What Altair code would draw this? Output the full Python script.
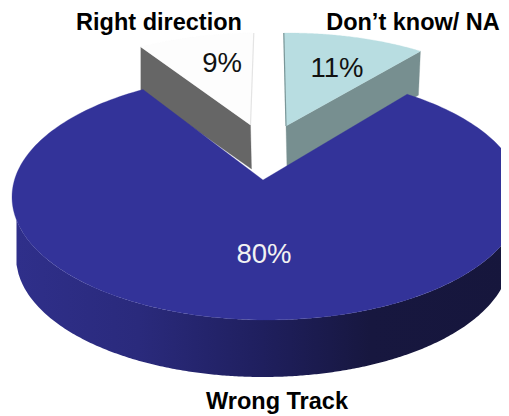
import math
import altair as alt
import pandas as pd

# Chart content
categories = ["Right direction", "Don\u2019t know/ NA", "Wrong Track"]
shares = [9, 11, 80]
top_colors = ["#fdfdfd", "#b8dde1", "#333399"]
wall_colors = ["#666666", "#778f90", None]
edge_colors = ["#e4e4e4", "#7a9698", None]
value_labels = ["9%", "11%", "80%"]
value_label_colors = ["#111111", "#111111", "#f2f2f2"]

# Drawing set-up of the tilted, exploded pie (page pixels)
W, H = 493, 400
DISC = dict(cx=267, cy=197, rx=255, ry=123)
BASE = dict(cx=263, cy=257, rx=247, ry=120)
APEX = (263, 180)
FORESHORTEN = 0.867       # the near-top slices look narrower through the tilt
START_ANGLE = -1          # boundary between the two small slices
SLICE_DISC = [dict(cx=258, cy=143.7, rx=241, ry=110.7), dict(cx=288, cy=143.7, rx=241, ry=110.7)]
SLICE_APEX = [(250.5, 125), (286, 126)]
DEPTH = 44


def rim(d, deg):
    t = math.radians(deg)
    return d["cx"] + d["rx"] * math.sin(t), d["cy"] - d["ry"] * math.cos(t)


def arc(d, a0, a1, n=90):
    return [rim(d, a0 + (a1 - a0) * i / n) for i in range(n + 1)]


xs = alt.Scale(domain=[8, 8 + W], range=[0, W])
ys = alt.Scale(domain=[8, 8 + H], range=[0, H])


def polygon(pts, color):
    pts = list(pts) + [pts[0]]
    df = pd.DataFrame({"x": [p[0] for p in pts], "y": [p[1] for p in pts], "i": range(len(pts))})
    return alt.Chart(df).mark_line(fill=color, stroke=color, strokeWidth=0.3, clip=True, interpolate="linear").encode(
        x=alt.X("x:Q", scale=xs, axis=None),
        y=alt.Y("y:Q", scale=ys, axis=None),
        order="i:Q",
    )


def segment(p, q, color):
    df = pd.DataFrame({"x": [p[0], q[0]], "y": [p[1], q[1]], "i": [0, 1]})
    return alt.Chart(df).mark_line(stroke=color, strokeWidth=1.2).encode(
        x=alt.X("x:Q", scale=xs, axis=None),
        y=alt.Y("y:Q", scale=ys, axis=None),
        order="i:Q",
    )


layers = []

# Angles derived from the shares
small_sweep = [s * 3.6 * FORESHORTEN for s in shares[:2]]
a_left = START_ANGLE - small_sweep[0]
a_right = START_ANGLE + small_sweep[1]
spans = [(a_left, START_ANGLE), (START_ANGLE, a_right)]

# Small slices: cut wall, then top face
for i, (a0, a1) in enumerate(spans):
    corner = rim(SLICE_DISC[i], a0 if i == 0 else a1)
    apex = SLICE_APEX[i]
    wall = [corner, apex, (apex[0] + 1, apex[1] + DEPTH), (corner[0] - (0 if i == 0 else 2), corner[1] + DEPTH)]
    layers.append(polygon(wall, wall_colors[i]))
    layers.append(polygon([apex] + arc(SLICE_DISC[i], a0, a1), top_colors[i]))
    top = rim(SLICE_DISC[i], START_ANGLE)
    layers.append(segment(top, apex, edge_colors[i]))

# Large slice: outer wall with a horizontal shade
wall_rows = []
x = BASE["cx"] - BASE["rx"] + 0.5
while x <= 509:
    top = DISC["cy"] + DISC["ry"] * math.sqrt(max(0, 1 - ((x - DISC["cx"]) / DISC["rx"]) ** 2))
    u = (x - BASE["cx"]) / BASE["rx"]
    bottom = BASE["cy"] + BASE["ry"] * math.sqrt(max(0, 1 - u * u))
    wall_rows.append({"x": x, "y": top, "y2": max(top, bottom)})
    x += 2
shade = alt.Gradient(
    gradient="linear", x1=0, x2=1, y1=0, y2=0,
    stops=[
        alt.GradientStop(offset=0, color="#2f2f8a"),
        alt.GradientStop(offset=0.25, color="#2a2a7c"),
        alt.GradientStop(offset=0.5, color="#1f1f5e"),
        alt.GradientStop(offset=0.72, color="#17173f"),
        alt.GradientStop(offset=1, color="#16163c"),
    ],
)
layers.append(
    alt.Chart(pd.DataFrame(wall_rows)).mark_area(color=shade, clip=True).encode(
        x=alt.X("x:Q", scale=xs, axis=None),
        y=alt.Y("y:Q", scale=ys, axis=None),
        y2="y2:Q",
    )
)

# Large slice: top face, whatever the small rims leave open
layers.append(polygon([APEX] + arc(DISC, a_right, a_left + 360, 240), top_colors[2]))

# Text
value_df = pd.DataFrame({
    "t": value_labels, "c": value_label_colors,
    "x": [222, 337, 264], "y": [64, 69, 255],
})
layers.append(
    alt.Chart(value_df).mark_text(font="Liberation Sans", fontSize=27.5, align="center", baseline="middle").encode(
        x=alt.X("x:Q", scale=xs, axis=None), y=alt.Y("y:Q", scale=ys, axis=None),
        text="t:N", color=alt.Color("c:N", scale=None),
    )
)
name_df = pd.DataFrame({"t": categories, "x": [159, 413, 277], "y": [23, 23, 402]})
layers.append(
    alt.Chart(name_df).mark_text(font="Liberation Sans", fontSize=23.5, fontWeight="bold", color="#000000",
                                 align="center", baseline="middle").encode(
        x=alt.X("x:Q", scale=xs, axis=None), y=alt.Y("y:Q", scale=ys, axis=None), text="t:N",
    )
)

chart = alt.layer(*layers).properties(width=W, height=H, padding=0, background="white").configure_view(stroke=None)
chart.save("out.html", embed_options={"renderer": "svg", "actions": False})
